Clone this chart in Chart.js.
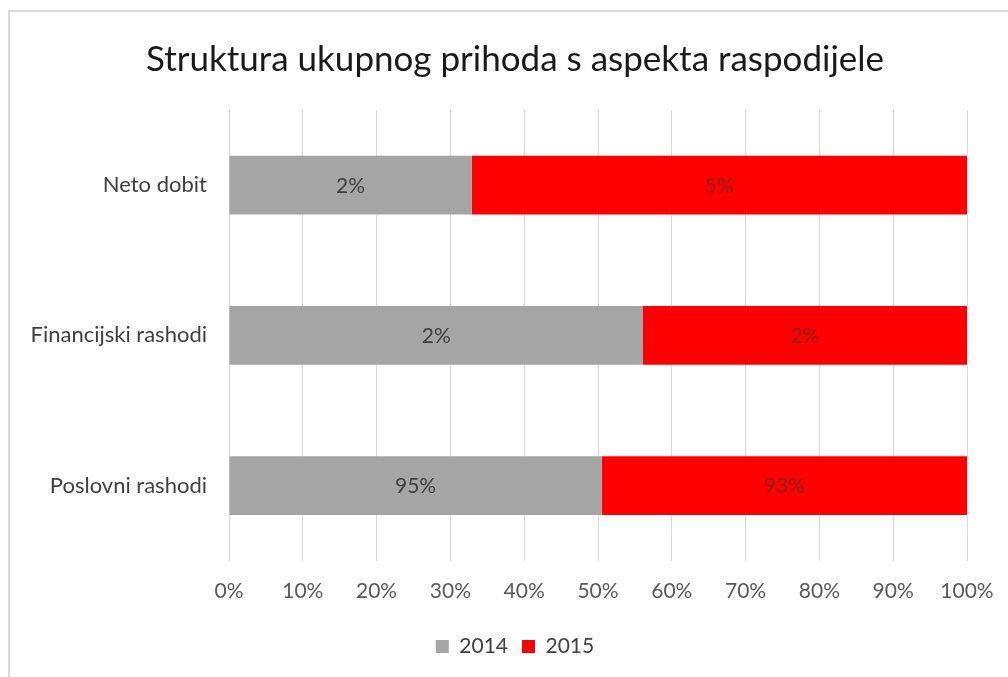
<!DOCTYPE html>
<html>
<head>
<meta charset="utf-8">
<script src="https://cdn.jsdelivr.net/npm/chart.js@4/dist/chart.umd.min.js"></script>
<style>
  html, body { margin: 0; padding: 0; background: #fff; }
  #frame {
    position: absolute; left: 8px; top: 10px; width: 1100px; height: 700px;
    border-left: 2px solid #d9d9d9; border-top: 2px solid #d9d9d9;
  }
  #wrap { position: absolute; left: 0; top: 0; width: 1008px; height: 677px; }
</style>
</head>
<body>
<div id="frame"></div>
<div id="wrap"><canvas id="structure_chart"></canvas></div>
<script>
// categories and values (share of total, in %)
const categories = ['Neto dobit', 'Financijski rashodi', 'Poslovni rashodi'];
const values_2014 = [2.4, 2.3, 95.3];
const values_2015 = [4.9, 1.8, 93.4];
const series_labels = ['2014', '2015'];

// 100% stacked: each bar split by the share of its row total
function toPercent(a, b){
    return a.map((v, i) => v / (v + b[i]) * 100);
}
const pct_2014 = toPercent(values_2014, values_2015);
const pct_2015 = toPercent(values_2015, values_2014);

// small label plugin, prints the raw value in the middle of each segment
const segmentLabels = {
    id: 'segmentLabels',
    afterDatasetsDraw(chart){
        const ctx = chart.ctx;
        ctx.save();
        ctx.font = '21px Lato, "Open Sans", sans-serif';
        ctx.textAlign = 'center';
        ctx.textBaseline = 'middle';
        chart.data.datasets.forEach((ds, di) => {
            const meta = chart.getDatasetMeta(di);
            meta.data.forEach((bar, i) => {
                const p = bar.getCenterPoint();
                ctx.fillStyle = ds.labelColor;
                ctx.fillText(Math.round(ds.raw[i]) + '%', p.x, p.y + 1);
            });
        });
        ctx.restore();
    }
};

const ctx = document.getElementById('structure_chart').getContext('2d');
const chart = new Chart(ctx, {
    type: 'bar',
    data: {
        labels: categories,
        datasets: [{
            label: series_labels[0],
            data: pct_2014,
            raw: values_2014,
            backgroundColor: '#a5a5a5',
            labelColor: '#404040',
            categoryPercentage: 0.4,
            barPercentage: 0.98
        }, {
            label: series_labels[1],
            data: pct_2015,
            raw: values_2015,
            backgroundColor: '#ff0000',
            labelColor: '#8a2020',
            categoryPercentage: 0.4,
            barPercentage: 0.98
        }]
    },
    plugins: [segmentLabels],
    options: {
        indexAxis: 'y',
        responsive: true,
        maintainAspectRatio: false,
        animation: false,
        layout: {
            padding: { left: 28, right: 6, top: 39, bottom: 10 }
        },
        scales: {
            x: {
                stacked: true,
                min: 0,
                max: 100,
                ticks: {
                    stepSize: 10,
                    color: '#595959',
                    font: { family: 'Lato', size: 21 },
                    padding: 18,
                    callback: v => v + '%'
                },
                grid: { color: '#d9d9d9', lineWidth: 1, drawTicks: false },
                border: { display: false },
                afterFit(scale){
                    // keep the right end of the plot where the reference has it
                    scale.paddingRight = 41;
                }
            },
            y: {
                stacked: true,
                ticks: {
                    color: '#404040',
                    font: { family: 'Lato', size: 22 },
                    padding: 22
                },
                grid: { display: false, drawTicks: false },
                border: { display: false },
                afterFit(scale){
                    scale.width = 201;
                }
            }
        },
        plugins: {
            title: {
                display: true,
                text: 'Struktura ukupnog prihoda s aspekta raspodijele',
                color: '#1a1a1a',
                font: { family: 'Lato', size: 35, weight: 'normal' },
                padding: { top: 0, bottom: 29 }
            },
            legend: {
                position: 'bottom',
                labels: {
                    color: '#404040',
                    font: { family: 'Lato', size: 21 },
                    boxWidth: 13,
                    boxHeight: 13,
                    padding: 14
                }
            },
            tooltip: { enabled: false }
        }
    }
});
</script>
</body>
</html>
